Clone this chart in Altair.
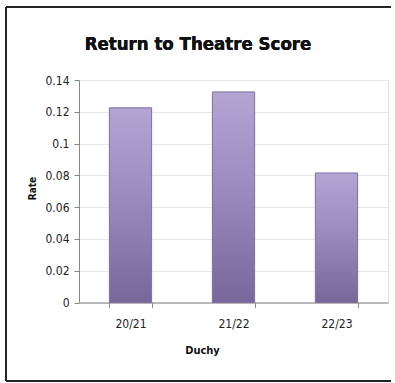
import altair as alt
import pandas as pd

title_text = "Return to Theatre Score"
categories = ["20/21", "21/22", "22/23"]
rates = [0.1225, 0.1325, 0.0815]
y_ticks = [0, 0.02, 0.04, 0.06, 0.08, 0.1, 0.12, 0.14]

df = pd.DataFrame({"Duchy": categories, "Rate": rates})

FONT = "'DejaVu Sans Condensed', 'Liberation Sans Narrow', Lato, sans-serif"

grad = alt.Gradient(
    gradient="linear",
    x1=0, x2=0, y1=0, y2=1,
    stops=[
        alt.GradientStop(color="#b2a5d3", offset=0),
        alt.GradientStop(color="#9d8fc2", offset=0.4),
        alt.GradientStop(color="#76689a", offset=1),
    ],
)

bars = alt.Chart(df).mark_bar(
    fill=grad, stroke="#7e6f9e", strokeWidth=1
).encode(
    x=alt.X("Duchy:N", sort=categories,
            scale=alt.Scale(paddingInner=0.59, paddingOuter=0.295),
            axis=alt.Axis(title="Duchy", labelAngle=0, tickBand="extent",
                          labelFont=FONT, labelFontSize=12, labelColor="#222",
                          labelPadding=11, tickSize=5, tickColor="#888",
                          domainColor="#888", grid=False,
                          titleFont=FONT, titleFontSize=11, titleFontWeight="bold",
                          titleColor="#111", titleX=123, titleY=48,
                          titleBaseline="middle")),
    y=alt.Y("Rate:Q", scale=alt.Scale(domain=[0, 0.14], nice=False),
            axis=alt.Axis(title="Rate", values=y_ticks, format="~g",
                          labelFont=FONT, labelFontSize=12, labelColor="#222",
                          labelPadding=5, tickSize=5, tickColor="#888",
                          domainColor="#888", gridColor="#e6e6e6",
                          titleFont=FONT, titleFontSize=10, titleFontWeight="bold",
                          titleColor="#111", titleX=-47, titleY=108,
                          titleAngle=270, titleBaseline="middle")),
)

rule_kw = dict(stroke="#222", strokeWidth=1.5, clip=False)
border_top = alt.Chart(df).mark_rule(**rule_kw).encode(
    x=alt.value(-73), x2=alt.value(312), y=alt.value(-73)
)
border_left = alt.Chart(df).mark_rule(**rule_kw).encode(
    x=alt.value(-73), y=alt.value(-73), y2=alt.value(301)
)
border_bottom = alt.Chart(df).mark_rule(**rule_kw).encode(
    x=alt.value(-73), x2=alt.value(312), y=alt.value(301)
)

title = alt.Chart(df).mark_text(
    font=FONT, fontSize=18.5, fontWeight="bold", color="#111",
    align="center", baseline="alphabetic", clip=False
).encode(
    x=alt.value(119), y=alt.value(-30), text=alt.value(title_text)
)

chart = alt.layer(border_top, border_left, border_bottom, bars, title).properties(
    width=309, height=222.5,
    autosize=alt.AutoSizeParams(type="none"),
    padding={"left": 79, "top": 80, "right": 7, "bottom": 80},
).configure_view(stroke=None).configure(background="white")

chart.save("out.html", embed_options={"renderer": "svg", "actions": False})
